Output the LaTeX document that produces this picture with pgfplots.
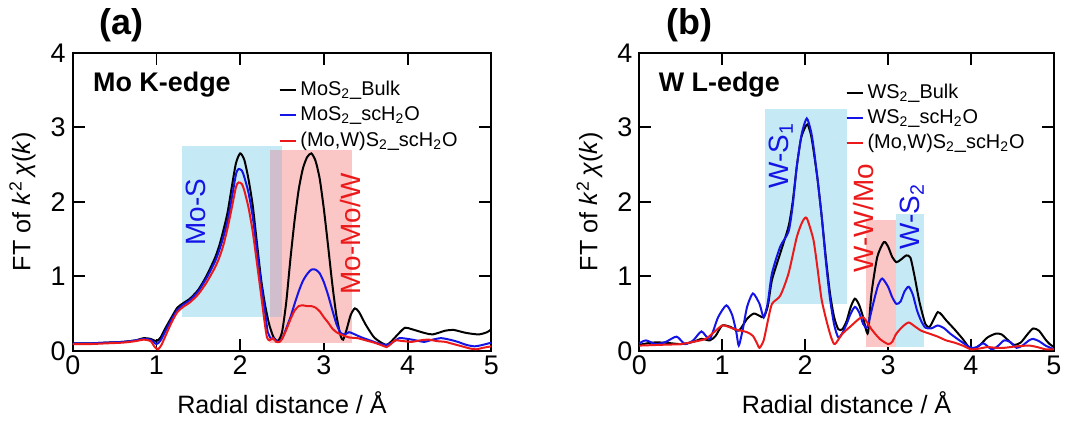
\documentclass[border=0pt]{standalone}
\usepackage{fontspec}
\setmainfont{Liberation Sans}
\usepackage{pgfplots}
\pgfplotsset{compat=1.18}

\definecolor{boxblue}{RGB}{198,233,246}
\definecolor{boxpink}{RGB}{250,198,198}
\definecolor{boxmix}{RGB}{208,190,204}
\definecolor{cblue}{RGB}{20,20,230}
\definecolor{cred}{RGB}{235,25,25}

\pgfplotsset{
  panel/.style={
    width=210pt, height=149.5pt, scale only axis,
    xmin=0, xmax=5, ymin=0, ymax=4,
    xtick={0,1,2,3,4,5}, ytick={0,1,2,3,4},
    tick align=inside, major tick length=6pt,
    axis line style={line width=0.9pt},
    every tick/.style={line width=0.9pt, black},
    ticklabel style={font=\fontsize{13.5}{15}\selectfont},
    xticklabel style={yshift=1pt},
    /pgf/number format/assume math mode=true,
    xlabel={Radial distance / Å},
    ylabel={FT of \textit{k}\textsuperscript{2}\,\textit{χ}(\textit{k})},
    label style={font=\fontsize{12.6}{14}\selectfont},
    xlabel style={at={(axis description cs:0.5,-0.175)}, anchor=center},
    ylabel style={at={(axis description cs:-0.12,0.5)}, anchor=center},
    clip=false,
    legend style={draw=none, fill=none, font=\fontsize{10}{12}\selectfont,
      anchor=north west, row sep=0pt, inner sep=1pt},
    legend cell align=left,
    legend image code/.code={\draw[#1, line width=1pt] (0pt,0pt) -- (5pt,0pt); \path (0pt,0pt) -- (8pt,0pt);},
  },
  curve/.style={line width=1pt, smooth, tension=0.4},
}

\begin{document}
\begin{tikzpicture}
% ---------------- (a) Mo K-edge ----------------
\begin{axis}[panel, legend style={at={(axis cs:2.43,3.70)}}]
\addplot[fill=boxblue, draw=none, forget plot] coordinates {(1.31,0.46)(2.36,0.46)(2.36,2.75)(1.31,2.75)} -- cycle;
\addplot[fill=boxblue, draw=none, forget plot] coordinates {(2.36,2.70)(2.50,2.70)(2.50,2.75)(2.36,2.75)} -- cycle;
\addplot[fill=boxpink, draw=none, forget plot] coordinates {(2.50,0.11)(3.33,0.11)(3.33,2.70)(2.50,2.70)} -- cycle;
\addplot[fill=boxmix, draw=none, forget plot] coordinates {(2.36,0.46)(2.50,0.46)(2.50,2.70)(2.36,2.70)} -- cycle;
\addplot[fill=boxpink, draw=none, forget plot] coordinates {(2.36,0.11)(2.50,0.11)(2.50,0.46)(2.36,0.46)} -- cycle;

\addplot[curve, black] coordinates {
(0,0.10)(0.2,0.10)(0.4,0.11)(0.6,0.12)(0.75,0.14)(0.85,0.17)(0.93,0.16)(1.0,0.13)(1.05,0.18)(1.1,0.29)
(1.18,0.45)(1.25,0.58)(1.32,0.64)(1.4,0.70)(1.5,0.82)(1.6,1.01)(1.7,1.25)(1.75,1.41)(1.8,1.62)(1.85,1.86)
(1.9,2.20)(1.95,2.52)(2.0,2.65)(2.05,2.56)(2.1,2.30)(2.15,1.95)(2.2,1.45)(2.25,0.96)(2.3,0.60)(2.35,0.34)
(2.4,0.18)(2.45,0.13)(2.5,0.25)(2.55,0.65)(2.6,1.23)(2.65,1.75)(2.7,2.17)(2.75,2.45)(2.8,2.60)(2.85,2.65)
(2.9,2.55)(2.95,2.31)(3.0,1.90)(3.05,1.41)(3.1,0.90)(3.15,0.47)(3.2,0.20)(3.23,0.15)(3.27,0.28)(3.32,0.48)
(3.37,0.57)(3.42,0.52)(3.5,0.35)(3.6,0.18)(3.7,0.10)(3.75,0.08)(3.8,0.12)(3.9,0.24)(3.97,0.31)(4.05,0.29)
(4.2,0.24)(4.3,0.22)(4.45,0.27)(4.55,0.28)(4.7,0.24)(4.85,0.22)(4.95,0.25)(5,0.29)};
\addlegendentry{MoS\textsubscript{2}\_Bulk}
\addplot[curve, cblue] coordinates {
(0,0.10)(0.2,0.10)(0.4,0.11)(0.6,0.12)(0.75,0.14)(0.85,0.16)(0.93,0.15)(1.0,0.09)(1.05,0.14)(1.1,0.25)
(1.18,0.42)(1.25,0.55)(1.32,0.62)(1.4,0.68)(1.5,0.80)(1.6,0.98)(1.7,1.20)(1.75,1.35)(1.8,1.53)(1.85,1.75)
(1.9,2.05)(1.95,2.37)(1.98,2.44)(2.02,2.42)(2.05,2.33)(2.1,2.12)(2.15,1.80)(2.2,1.35)(2.25,0.90)(2.3,0.50)
(2.33,0.25)(2.37,0.16)(2.4,0.17)(2.45,0.12)(2.5,0.16)(2.55,0.30)(2.6,0.45)(2.65,0.63)(2.7,0.80)(2.75,0.94)
(2.8,1.03)(2.85,1.09)(2.9,1.09)(2.95,1.04)(3.0,0.92)(3.05,0.75)(3.1,0.55)(3.15,0.36)(3.2,0.24)(3.25,0.22)
(3.3,0.25)(3.35,0.23)(3.45,0.18)(3.55,0.14)(3.65,0.10)(3.75,0.08)(3.83,0.12)(3.9,0.17)(4.0,0.16)(4.1,0.14)
(4.2,0.12)(4.3,0.15)(4.4,0.17)(4.5,0.15)(4.6,0.12)(4.7,0.08)(4.8,0.06)(4.9,0.08)(5,0.11)};
\addlegendentry{MoS\textsubscript{2}\_scH\textsubscript{2}O}
\addplot[curve, cred] coordinates {
(0,0.09)(0.2,0.09)(0.4,0.10)(0.6,0.11)(0.75,0.13)(0.85,0.15)(0.93,0.13)(0.98,0.05)(1.02,0.02)(1.06,0.08)
(1.1,0.18)(1.18,0.38)(1.25,0.52)(1.32,0.59)(1.4,0.65)(1.5,0.76)(1.6,0.92)(1.7,1.12)(1.75,1.25)(1.8,1.42)
(1.85,1.65)(1.9,1.92)(1.95,2.20)(1.98,2.26)(2.02,2.24)(2.05,2.15)(2.1,1.92)(2.15,1.60)(2.2,1.18)(2.25,0.75)
(2.29,0.40)(2.32,0.18)(2.35,0.14)(2.39,0.17)(2.43,0.12)(2.47,0.12)(2.5,0.16)(2.55,0.28)(2.6,0.42)(2.65,0.54)
(2.7,0.60)(2.75,0.61)(2.8,0.60)(2.85,0.60)(2.9,0.58)(2.95,0.53)(3.0,0.45)(3.05,0.38)(3.1,0.30)(3.15,0.25)
(3.2,0.22)(3.3,0.18)(3.4,0.17)(3.5,0.14)(3.6,0.11)(3.7,0.07)(3.75,0.05)(3.8,0.09)(3.85,0.14)(3.95,0.13)
(4.05,0.12)(4.15,0.14)(4.25,0.15)(4.35,0.13)(4.45,0.12)(4.55,0.09)(4.65,0.06)(4.75,0.03)(4.82,0.02)(4.9,0.04)(5,0.06)};
\addlegendentry{(Mo,W)S\textsubscript{2}\_scH\textsubscript{2}O}

\node[anchor=base west, font=\bfseries\fontsize{13.5}{15}\selectfont] at (axis cs:0.16,3.48) {Mo K-edge};
\node[rotate=90, text=cblue, font=\fontsize{14}{16}\selectfont] at (axis cs:1.47,1.86) {Mo-S};
\node[rotate=90, text=cred, font=\fontsize{14}{16}\selectfont] at (axis cs:3.32,1.57) {Mo-Mo/W};
\node[anchor=base, font=\bfseries\fontsize{18}{20}\selectfont] at (rel axis cs:0.117,1.06) {(a)};
\end{axis}

% ---------------- (b) W L-edge ----------------
\begin{axis}[panel, width=208pt, at={(284.25pt,0pt)}, legend style={at={(axis cs:2.46,3.67)}}]
\addplot[fill=boxblue, draw=none, forget plot] coordinates {(1.51,0.63)(2.51,0.63)(2.51,3.25)(1.51,3.25)} -- cycle;
\addplot[fill=boxpink, draw=none, forget plot] coordinates {(2.74,0.05)(3.10,0.05)(3.10,1.76)(2.74,1.76)} -- cycle;
\addplot[fill=boxblue, draw=none, forget plot] coordinates {(3.10,0.05)(3.43,0.05)(3.43,1.84)(3.10,1.84)} -- cycle;

\addplot[curve, black] coordinates {
(0,0.08)(0.15,0.11)(0.3,0.11)(0.5,0.09)(0.65,0.12)(0.75,0.16)(0.85,0.14)(0.92,0.20)(1.0,0.34)(1.1,0.32)
(1.2,0.27)(1.3,0.43)(1.38,0.50)(1.45,0.47)(1.5,0.45)(1.55,0.60)(1.6,0.95)(1.7,1.31)(1.8,1.67)(1.85,2.00)
(1.9,2.48)(1.95,2.85)(2.0,3.00)(2.03,3.04)(2.07,2.90)(2.1,2.70)(2.15,2.30)(2.2,1.80)(2.25,1.25)(2.3,0.77)
(2.35,0.45)(2.4,0.29)(2.45,0.29)(2.5,0.40)(2.55,0.59)(2.6,0.70)(2.65,0.62)(2.7,0.45)(2.73,0.30)(2.76,0.25)
(2.8,0.77)(2.87,1.26)(2.95,1.46)(3.0,1.40)(3.05,1.26)(3.1,1.19)(3.15,1.22)(3.22,1.28)(3.27,1.25)(3.32,1.00)
(3.38,0.65)(3.45,0.36)(3.5,0.32)(3.55,0.42)(3.6,0.52)(3.65,0.48)(3.7,0.41)(3.8,0.29)(3.9,0.16)(4.0,0.02)
(4.1,0.07)(4.2,0.18)(4.3,0.23)(4.37,0.22)(4.45,0.14)(4.52,0.08)(4.6,0.11)(4.68,0.22)(4.75,0.30)(4.82,0.27)
(4.9,0.15)(4.95,0.09)(5,0.05)};
\addlegendentry{WS\textsubscript{2}\_Bulk}
\addplot[curve, cblue] coordinates {
(0,0.10)(0.08,0.14)(0.2,0.09)(0.32,0.12)(0.45,0.19)(0.55,0.09)(0.65,0.14)(0.75,0.26)(0.85,0.16)(0.95,0.45)
(1.05,0.61)(1.12,0.48)(1.17,0.25)(1.2,0.07)(1.25,0.30)(1.3,0.59)(1.37,0.77)(1.45,0.63)(1.5,0.45)(1.55,0.65)
(1.6,1.04)(1.7,1.40)(1.8,1.60)(1.85,1.95)(1.9,2.48)(1.96,2.92)(2.02,3.12)(2.07,2.95)(2.1,2.75)(2.15,2.30)
(2.2,1.80)(2.25,1.20)(2.3,0.70)(2.35,0.35)(2.4,0.18)(2.45,0.24)(2.5,0.36)(2.55,0.50)(2.6,0.59)(2.65,0.52)
(2.7,0.36)(2.75,0.32)(2.82,0.63)(2.88,0.88)(2.93,0.97)(3.0,0.86)(3.05,0.72)(3.1,0.63)(3.15,0.66)(3.2,0.80)
(3.25,0.86)(3.3,0.75)(3.35,0.54)(3.4,0.40)(3.45,0.31)(3.52,0.30)(3.6,0.34)(3.68,0.30)(3.75,0.23)(3.9,0.11)
(4.0,0.04)(4.07,0.05)(4.15,0.10)(4.25,0.02)(4.32,0.06)(4.4,0.14)(4.47,0.12)(4.55,0.04)(4.62,0.07)(4.7,0.14)
(4.75,0.16)(4.82,0.13)(4.9,0.07)(5,0.02)};
\addlegendentry{WS\textsubscript{2}\_scH\textsubscript{2}O}
\addplot[curve, cred] coordinates {
(0,0.07)(0.25,0.08)(0.5,0.09)(0.65,0.12)(0.8,0.16)(0.9,0.25)(1.0,0.34)(1.08,0.32)(1.15,0.29)(1.3,0.25)
(1.37,0.20)(1.42,0.10)(1.45,0.04)(1.5,0.14)(1.55,0.40)(1.6,0.63)(1.7,0.74)(1.8,1.04)(1.9,1.53)(1.97,1.74)
(2.02,1.78)(2.1,1.49)(2.15,1.10)(2.2,0.68)(2.27,0.35)(2.32,0.16)(2.36,0.09)(2.45,0.23)(2.55,0.33)(2.65,0.43)
(2.7,0.45)(2.75,0.38)(2.8,0.29)(2.9,0.16)(3.0,0.09)(3.05,0.12)(3.1,0.23)(3.18,0.33)(3.25,0.38)(3.32,0.33)
(3.4,0.27)(3.5,0.23)(3.6,0.19)(3.7,0.14)(3.8,0.11)(3.9,0.07)(4.0,0.02)(4.1,0.03)(4.2,0.05)(4.3,0.04)
(4.4,0.04)(4.55,0.06)(4.7,0.07)(4.8,0.05)(4.9,0.02)(5,0.02)};
\addlegendentry{(Mo,W)S\textsubscript{2}\_scH\textsubscript{2}O}

\node[anchor=base west, font=\bfseries\fontsize{13.5}{15}\selectfont] at (axis cs:0.15,3.48) {W L-edge};
\node[rotate=90, text=cblue, font=\fontsize{14}{16}\selectfont] at (axis cs:1.71,2.62) {W-S\textsubscript{1}};
\node[rotate=90, text=cred, font=\fontsize{14}{16}\selectfont] at (axis cs:2.70,1.78) {W-W/Mo};
\node[rotate=90, text=cblue, font=\fontsize{14}{16}\selectfont] at (axis cs:3.29,1.80) {W-S\textsubscript{2}};
\node[anchor=base, font=\bfseries\fontsize{18}{20}\selectfont] at (rel axis cs:0.12,1.06) {(b)};
\end{axis}
\path[use as bounding box] (-36.5pt,-33pt) rectangle (497.5pt,176pt);
\end{tikzpicture}
\end{document}
